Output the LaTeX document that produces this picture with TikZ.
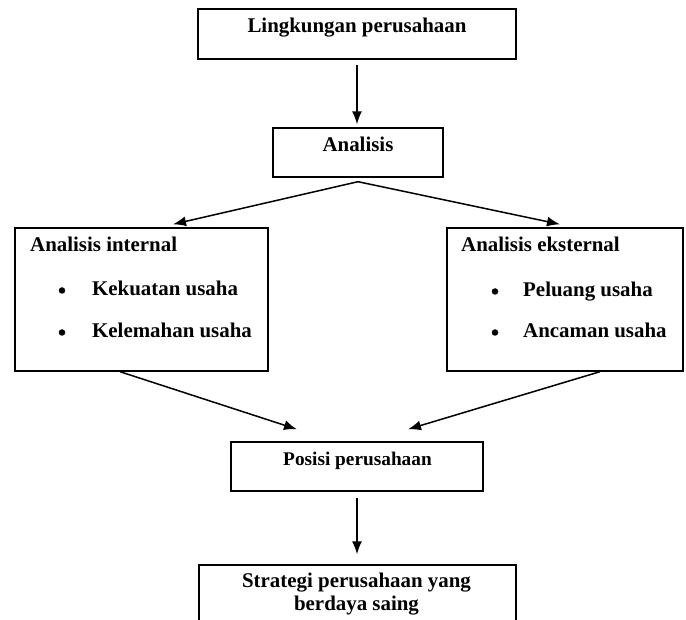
\documentclass[tikz,border=0pt]{standalone}
\usepackage{fontspec}
\setmainfont{Liberation Serif}
\usetikzlibrary{arrows.meta,calc}
\begin{document}
\begin{tikzpicture}[x=1pt,y=-1pt,
  box/.style={draw, line width=1.4pt, inner sep=0pt},
  txt/.style={inner sep=0pt, font=\fontsize{20.9}{23.5}\selectfont\bfseries},
  arr/.style={line width=1.5pt, -{Latex[length=13pt,width=10pt]}},
  dot/.style={circle, fill=black, inner sep=0pt, minimum size=6.5pt}]
\useasboundingbox (0,0) rectangle (686,620);
\clip (0,0) rectangle (686,620);
% boxes
\node[box, minimum width=318pt, minimum height=50pt] (env) at (357,34) {};
\node[box, minimum width=170pt, minimum height=49pt] (ana) at (358,152.5) {};
\node[box, minimum width=253pt, minimum height=143pt] (lin) at (141.5,299.5) {};
\node[box, minimum width=236pt, minimum height=143pt] (ext) at (565,299.5) {};
\node[box, minimum width=252pt, minimum height=49pt] (pos) at (357,466.5) {};
\node[box, minimum width=317pt, minimum height=90pt] (str) at (357.5,610) {};
% texts
\node[txt, anchor=base] (tenv) at (357,33) {Lingkungan perusahaan};
\node[txt, anchor=base] (tana) at (358,152) {Analisis};
\node[txt, anchor=base west] (tlin) at (30,252) {Analisis internal};
\node[dot] (d1) at (62,290.5) {};
\node[txt, anchor=base west] (tk1) at (92,296) {Kekuatan usaha};
\node[dot] (d2) at (62,332.5) {};
\node[txt, anchor=base west] (tk2) at (92,338) {Kelemahan usaha};
\node[txt, anchor=base west] (text) at (461,252) {Analisis eksternal};
\node[dot] (d3) at (495,291.5) {};
\node[txt, anchor=base west] (te1) at (523,297) {Peluang usaha};
\node[dot] (d4) at (495,332.5) {};
\node[txt, anchor=base west] (te2) at (523,338) {Ancaman usaha};
\node[txt, anchor=base, font=\fontsize{19.3}{22}\selectfont\bfseries] (tpos) at (357.5,465) {Posisi perusahaan};
\node[txt, anchor=base] (tstr1) at (356.5,587) {Strategi perusahaan yang};
\node[txt, anchor=base] (tstr2) at (356.5,610) {berdaya saing};
% connectors
\coordinate (split) at ([yshift=-4pt]ana.south);
\draw[arr] ([yshift=-5pt]env.south) -- ([yshift=3pt]env.south |- ana.north);
\draw[arr] (split) -- ([shift={(31.5pt,3pt)}]lin.north);
\draw[arr] (split) -- ([shift={(-5pt,3pt)}]ext.north);
\draw[arr] ([xshift=-21.5pt]lin.south) -- ([shift={(-60pt,12pt)}]pos.north);
\draw[arr] ([xshift=35pt]ext.south) -- ([shift={(51pt,12pt)}]pos.north);
\draw[arr] ([yshift=-6pt]pos.south) -- ([yshift=10pt]pos.south |- str.north);
\end{tikzpicture}
\end{document}
